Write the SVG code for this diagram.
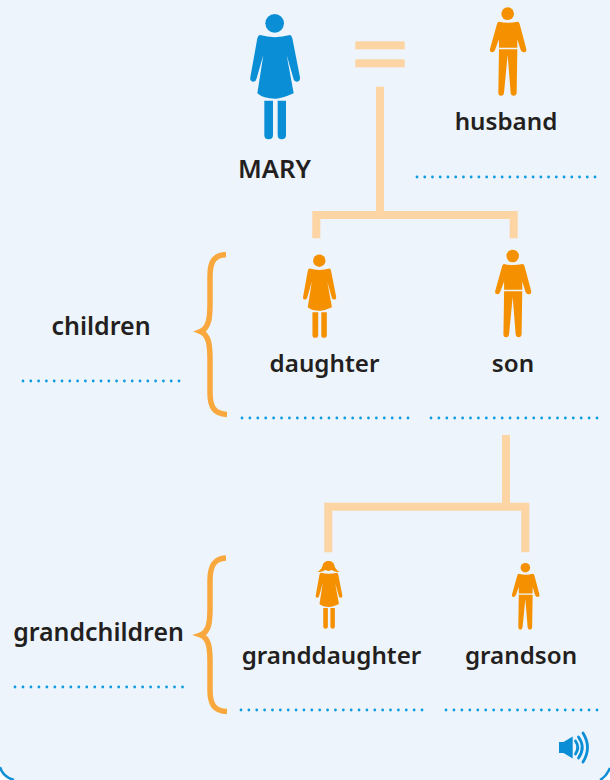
<svg xmlns="http://www.w3.org/2000/svg" xmlns:xlink="http://www.w3.org/1999/xlink" width="610" height="780" viewBox="0 0 610 780">
<style>
.lb{font-family:"Noto Sans","Open Sans","Liberation Sans",sans-serif;font-weight:600;font-size:24.2px;fill:#231f20;text-anchor:middle}
.dots{fill:none;stroke:#0e9ce0;stroke-width:2.8;stroke-linecap:round;stroke-dasharray:0 1}
.conn{fill:none;stroke:#fdd4a3;stroke-width:8}
.brace{fill:none;stroke:#f9a83e;stroke-width:5.500}
.o{fill:#f59100}
</style>
<defs>
<g id="womanBody">
<path d="M90,105 Q134,118 180,105 Q184,105 187,115 L210,232 Q211,245 200,245 Q192,245 190,235 L170,165 L191,280 Q150,298 135,296 Q100,296 82,280 L100,165 L80,235 Q78,245 70,245 Q59,245 61,232 L82,115 Q85,105 90,105Z"/>
<path d="M103,302H129V405Q129,418 116,418Q103,418 103,405Z"/>
<path d="M143,302H168V405Q168,418 155,418Q143,418 143,405Z"/>
</g>
<g id="womanFull">
<circle cx="134" cy="70" r="28"/>
<use xlink:href="#womanBody" href="#womanBody"/>
</g>
<g id="man">
<circle cx="233" cy="41" r="19"/>
<path d="M207,65 Q233,72 263,65 Q267,65 269,72 L289,147 Q290,157 281,157 Q275,157 272,150 L262,118 V143 H207 V118 L195,150 Q192,157 187,157 Q178,157 180,147 L201,72 Q203,65 207,65Z"/>
<path d="M207,148 H262 L260,278 Q259,287 251,287 Q243,287 242,278 L233,165 L222,278 Q221,287 213,287 Q205,287 205,278Z"/>
</g>
</defs>
<rect width="610" height="780" fill="#edf4fb"/>
<path d="M0,767 Q3,777 14,780V781H-1V767Z" fill="#fff"/>
<path d="M610,768 Q606,777 600,780V781H611V768Z" fill="#fff"/>
<path d="M0,767 Q3,777 14,780" fill="none" stroke="#0f8fd6" stroke-width="2.500"/>
<path d="M610,768 Q606,777 600,780" fill="none" stroke="#0f8fd6" stroke-width="2.500"/>
<g id="connectors">
<path class="conn" d="M316.3,238.3V215H513.7V238.3M380,86.7V215"/>
<path class="conn" d="M328.3,552.3V506.7H525.3V552.3M506,435V506.7"/>
</g>
<g id="equals"><rect x="355.3" y="41.3" width="49.4" height="8" fill="#fdd4a3"/><rect x="355.3" y="59.3" width="49.4" height="8" fill="#fdd4a3"/></g>
<g id="mary"><use xlink:href="#womanFull" href="#womanFull" transform="translate(230,0) scale(.3333)" fill="#0a8ed6"/><text class="lb" style="font-size:25.6px" x="274.500" y="178">MARY</text></g>
<g id="husband"><use xlink:href="#man" href="#man" class="o" transform="translate(430,0) scale(.3333)"/><text class="lb" x="506" y="130">husband</text><path class="dots" pathLength="23.05" d="M417,177H595.400"/></g>
<g id="daughter"><use xlink:href="#womanFull" href="#womanFull" class="o" transform="translate(289.6,245.2) scale(.2217)"/><text class="lb" x="324.500" y="372">daughter</text><path class="dots" pathLength="21.05" d="M242,418H408.400"/></g>
<g id="son"><use xlink:href="#man" href="#man" class="o" transform="translate(435.8,242.500) scale(.33)"/><text class="lb" x="513" y="372">son</text><path class="dots" pathLength="21.05" d="M431,418H597.400"/></g>
<g id="children"><text class="lb" style="font-size:25px" x="101" y="335">children</text><path class="dots" pathLength="20.05" d="M23,381H179.400"/><path class="brace" d="M226,254.500C214,255 210,262 210,276V303C210,318 209,328 200.500,331.500C209,335 210,345 210,360V392C210,407 214,414 227,414.500"/></g>
<g id="granddaughter"><use xlink:href="#womanBody" href="#womanBody" class="o" transform="translate(304.8,553.9) scale(.179)"/><circle class="o" cx="328.500" cy="566" r="5"/><path class="o" d="M317.500,572Q322,569.500 323,564Q325,561 328.500,561Q332,561 334,564Q335,569.500 339.500,572Q334,572.500 328.500,567.500Q323,572.500 317.500,572Z"/><text class="lb" x="331.500" y="664">granddaughter</text><path class="dots" pathLength="23.05" d="M241,710H422.400"/></g>
<g id="grandson"><use xlink:href="#man" href="#man" class="o" transform="translate(466.7,557.400) scale(.2517)"/><text class="lb" x="521" y="664">grandson</text><path class="dots" pathLength="19.05" d="M446,710H597.400"/></g>
<g id="grandchildren"><text class="lb" style="font-size:24.900px" x="98.500" y="641">grandchildren</text><path class="dots" pathLength="21.05" d="M15,687H182.900"/><path class="brace" d="M226,558C214,558.500 210,566 210,580V608C210,622 209,632 200.500,635C209,638 210,648 210,662V690C210,704 214,711 227,711.500"/></g>
<g id="audio" fill="#0a8ed6"><path d="M559,742H563.500L572.700,736.500V758.500L563.500,753H559Z"/><path d="M575.500,741Q580,747.500 575.500,754M578.500,737Q586,747.500 578.500,758M583,733Q592,747.500 583,762" fill="none" stroke="#0a8ed6" stroke-width="2.800" stroke-linecap="round"/></g>
</svg>
